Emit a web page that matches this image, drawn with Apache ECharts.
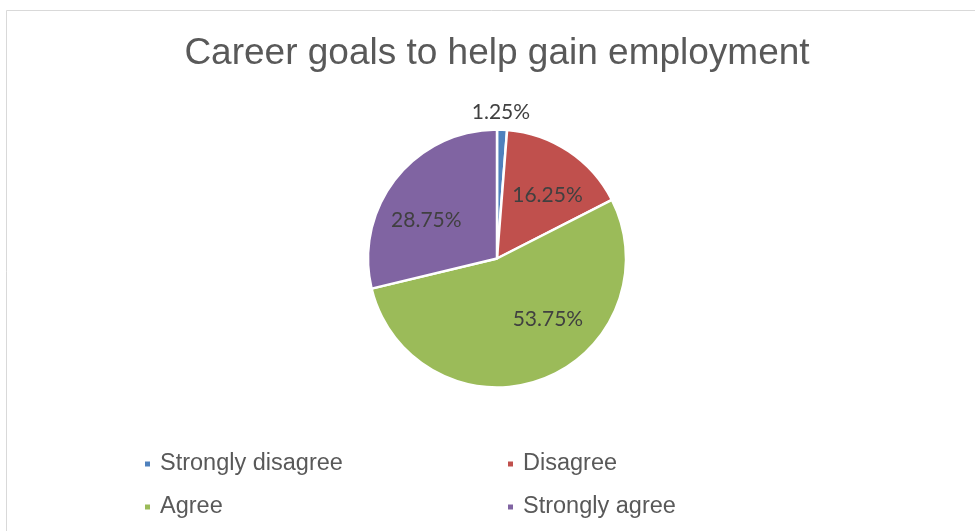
<!DOCTYPE html>
<html>
<head>
<meta charset="utf-8">
<script src="https://cdn.jsdelivr.net/npm/echarts@6/dist/echarts.min.js"></script>
<style>
  html, body { margin: 0; padding: 0; background: #ffffff; }
  #chart { width: 975px; height: 531px; }
</style>
</head>
<body>
<div id="chart"></div>
<script>
// Survey responses: share of respondents per answer (%)
const categories = ['Strongly disagree', 'Disagree', 'Agree', 'Strongly agree'];
const shares = [1.25, 16.25, 53.75, 28.75];
const colors = ['#4f81bd', '#c0504d', '#9bbb59', '#8064a2'];
const titleText = 'Career goals to help gain employment';

const center = [497, 258.5];
const pieRadius = 129;

// Small per-label nudges (px) for a best-fit style placement of the value labels
const labelNudge = [[-2, 5], [4, 6], [22, -18], [-5, 14]];

const pctFormatter = p => p.value.toFixed(2) + '%';
const labelFont = { color: '#404040', fontFamily: 'Lato', fontSize: 21 };
const legendText = { color: '#595959', fontFamily: 'Liberation Sans', fontSize: 23.5, padding: [0, 0, 0, 4] };

const sliceData = categories.map((name, i) => ({
  name, value: shares[i], itemStyle: { color: colors[i] }
}));

// Transparent helper rings that only carry the value labels, so the
// labels sit further out from the centre than the default mid-radius.
const innerLabelData = categories.map((name, i) => ({
  name, value: shares[i],
  label: { show: i !== 0 }
}));
const outerLabelData = categories.map((name, i) => ({
  name, value: shares[i],
  label: { show: i === 0 }
}));

const nudge = p => ({ dx: labelNudge[p.dataIndex][0], dy: labelNudge[p.dataIndex][1] });

const chart = echarts.init(document.getElementById('chart'), null, { renderer: 'canvas' });
chart.setOption({
  animation: false,
  backgroundColor: '#ffffff',
  graphic: [{
    type: 'rect',
    shape: { x: 6.5, y: 10.5, width: 1000, height: 600 },
    style: { fill: '#ffffff', stroke: '#d9d9d9', lineWidth: 1 },
    silent: true,
    z: -10
  }],
  title: {
    text: titleText,
    left: 492,
    textAlign: 'center',
    top: 30,
    textStyle: { color: '#595959', fontFamily: 'Liberation Sans', fontSize: 37, fontWeight: 'normal' }
  },
  legend: [
    {
      data: [categories[0], categories[2]],
      orient: 'vertical', left: 138, top: 447,
      icon: 'rect', itemWidth: 7, itemHeight: 7, itemGap: 19,
      textStyle: legendText,
      selectedMode: false
    },
    {
      data: [categories[1], categories[3]],
      orient: 'vertical', left: 501, top: 447,
      icon: 'rect', itemWidth: 7, itemHeight: 7, itemGap: 19,
      textStyle: legendText,
      selectedMode: false
    }
  ],
  series: [
    {
      type: 'pie',
      center, radius: pieRadius,
      startAngle: 90, clockwise: true,
      itemStyle: { borderColor: '#ffffff', borderWidth: 2.5 },
      label: { show: false },
      labelLine: { show: false },
      emphasis: { disabled: true },
      data: sliceData
    },
    {
      type: 'pie',
      center, radius: pieRadius * 1.25,
      startAngle: 90, clockwise: true,
      silent: true, legendHoverLink: false,
      itemStyle: { color: 'rgba(0,0,0,0)' },
      label: Object.assign({ position: 'inside', formatter: pctFormatter }, labelFont),
      labelLine: { show: false },
      labelLayout: nudge,
      emphasis: { disabled: true },
      data: innerLabelData
    },
    {
      type: 'pie',
      center, radius: pieRadius * 2.3,
      startAngle: 90, clockwise: true,
      silent: true, legendHoverLink: false,
      itemStyle: { color: 'rgba(0,0,0,0)' },
      label: Object.assign({ position: 'inside', formatter: pctFormatter }, labelFont),
      labelLine: { show: false },
      labelLayout: nudge,
      emphasis: { disabled: true },
      data: outerLabelData
    }
  ]
});
</script>
</body>
</html>
